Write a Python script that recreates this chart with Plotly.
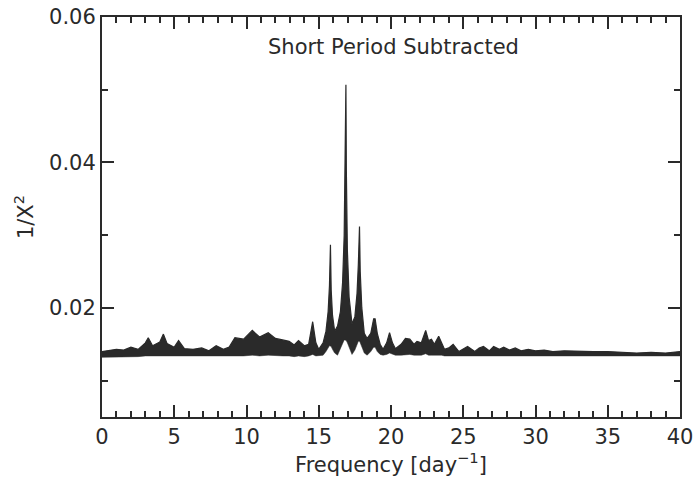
import plotly.graph_objects as go

freq = [0.0, 0.5, 1.0, 1.5, 2.0, 2.5, 3.0, 3.2, 3.5, 4.0, 4.25, 4.5, 5.0, 5.3, 5.7, 6.3, 6.9, 7.4, 7.9, 8.4,
        8.8, 9.2, 9.8, 10.4, 10.9, 11.5, 12.0, 12.5, 12.95, 13.3, 13.6, 14.0, 14.3, 14.58, 14.8, 15.0, 15.3,
        15.5, 15.65, 15.74, 15.77, 15.81, 15.86, 15.95, 16.1, 16.3, 16.5, 16.65, 16.76, 16.82, 16.84, 16.88,
        16.91, 16.98, 17.1, 17.3, 17.5, 17.65, 17.74, 17.78, 17.82, 17.87, 17.98, 18.15, 18.35, 18.6, 18.8,
        18.9, 19.05, 19.25, 19.45, 19.7, 19.9, 20.1, 20.3, 20.7, 21.0, 21.3, 21.6, 21.8, 22.1, 22.4, 22.6,
        22.8, 23.0, 23.3, 23.5, 23.7, 24.0, 24.3, 24.7, 25.0, 25.3, 25.8, 26.1, 26.4, 26.8, 27.1, 27.5, 27.8,
        28.2, 28.6, 29.0, 29.5, 30.0, 30.6, 31.2, 32.0, 33.0, 34.0, 35.0, 36.0, 37.0, 38.0, 39.0, 40.0]

upper = [0.0140, 0.0141, 0.0143, 0.0142, 0.0146, 0.0143, 0.0152, 0.0159, 0.0148, 0.0153, 0.0164, 0.0151,
         0.0146, 0.0155, 0.0144, 0.0143, 0.0145, 0.0141, 0.0148, 0.0143, 0.0146, 0.0159, 0.0157, 0.0169,
         0.0160, 0.0166, 0.0158, 0.0156, 0.0154, 0.0149, 0.0155, 0.0148, 0.0150, 0.0181, 0.0152, 0.0143,
         0.0152, 0.0168, 0.0195, 0.0230, 0.0287, 0.0287, 0.0225, 0.0190, 0.0168, 0.0175, 0.0195, 0.0235,
         0.0300, 0.0400, 0.0507, 0.0507, 0.0390, 0.0280, 0.0215, 0.0178, 0.0188, 0.0220, 0.0260, 0.0312,
         0.0312, 0.0250, 0.0200, 0.0165, 0.0158, 0.0165, 0.0185, 0.0185, 0.0165, 0.0150, 0.0143, 0.0152,
         0.0166, 0.0152, 0.0144, 0.0150, 0.0158, 0.0157, 0.0150, 0.0154, 0.0152, 0.0169, 0.0155, 0.0157,
         0.0150, 0.0161, 0.0152, 0.0143, 0.0145, 0.0150, 0.0140, 0.0144, 0.0147, 0.0140, 0.0145, 0.0147,
         0.0141, 0.0147, 0.0143, 0.0146, 0.0142, 0.0145, 0.0141, 0.0143, 0.0141, 0.0142, 0.0140, 0.0141,
         0.0140, 0.0140, 0.0140, 0.0139, 0.0138, 0.0139, 0.0138, 0.0140]

lower = [0.0132, 0.0132, 0.0133, 0.0132, 0.0133, 0.0133, 0.0134, 0.0134, 0.0133, 0.0134, 0.0134, 0.0134,
         0.0133, 0.0134, 0.0133, 0.0133, 0.0133, 0.0133, 0.0134, 0.0133, 0.0133, 0.0134, 0.0134, 0.0135,
         0.0134, 0.0135, 0.0134, 0.0134, 0.0134, 0.0133, 0.0134, 0.0133, 0.0134, 0.0136, 0.0134, 0.0134,
         0.0135, 0.0140, 0.0146, 0.0148, 0.0148, 0.0148, 0.0147, 0.0143, 0.0138, 0.0135, 0.0145, 0.0153,
         0.0156, 0.0156, 0.0156, 0.0156, 0.0155, 0.0152, 0.0145, 0.0136, 0.0142, 0.0151, 0.0154, 0.0154,
         0.0154, 0.0152, 0.0146, 0.0138, 0.0135, 0.0140, 0.0146, 0.0146, 0.0140, 0.0136, 0.0135, 0.0136,
         0.0138, 0.0136, 0.0135, 0.0135, 0.0136, 0.0136, 0.0135, 0.0135, 0.0135, 0.0137, 0.0135, 0.0135,
         0.0135, 0.0136, 0.0135, 0.0134, 0.0134, 0.0134, 0.0134, 0.0134, 0.0134, 0.0134, 0.0134, 0.0134,
         0.0134, 0.0134, 0.0134, 0.0134, 0.0134, 0.0134, 0.0134, 0.0134, 0.0134, 0.0134, 0.0134, 0.0134,
         0.0134, 0.0134, 0.0134, 0.0134, 0.0134, 0.0134, 0.0134, 0.0134]

x_ticks = [0, 5, 10, 15, 20, 25, 30, 35, 40]
y_ticks = [0.02, 0.04, 0.06]
y_tick_labels = ["0.02", "0.04", "0.06"]

INK = "#2a2a2a"
FONT = "DejaVu Sans"

fig = go.Figure()
fig.add_trace(go.Scatter(x=freq, y=lower, mode="lines", line=dict(width=0.5, color=INK),
                         showlegend=False, hoverinfo="skip"))
fig.add_trace(go.Scatter(x=freq, y=upper, mode="lines", line=dict(width=1.2, color=INK),
                         fill="tonexty", fillcolor=INK, showlegend=False))

fig.update_layout(
    width=696, height=487,
    margin=dict(l=102, r=16, t=17, b=70),
    paper_bgcolor="white", plot_bgcolor="white",
    font=dict(family=FONT, size=21, color=INK),
    annotations=[dict(text="Short Period Subtracted", x=0.505, y=0.925, xref="paper", yref="paper",
                      xanchor="center", yanchor="middle", showarrow=False,
                      font=dict(family=FONT, size=21, color=INK))],
)

fig.update_xaxes(
    range=[0, 40], tickmode="array", tickvals=x_ticks, ticktext=[str(v) for v in x_ticks],
    ticks="inside", ticklen=12, tickwidth=2, tickcolor=INK,
    minor=dict(dtick=1, ticks="inside", ticklen=6, tickwidth=1.5, tickcolor=INK),
    showline=True, linewidth=2, linecolor=INK, mirror="ticks",
    showgrid=False, zeroline=False, automargin=False,
    tickfont=dict(family=FONT, size=21, color=INK),
    title=dict(text="Frequency [day<sup>−1</sup>]", font=dict(family=FONT, size=21, color=INK), standoff=4),
)
fig.update_yaxes(
    range=[0.005, 0.06], tickmode="array", tickvals=y_ticks, ticktext=y_tick_labels,
    ticks="inside", ticklen=12, tickwidth=2, tickcolor=INK,
    minor=dict(tickvals=[0.01, 0.03, 0.05], ticks="inside", ticklen=6, tickwidth=1.5, tickcolor=INK),
    showline=True, linewidth=2, linecolor=INK, mirror="ticks",
    showgrid=False, zeroline=False, automargin=False,
    tickfont=dict(family=FONT, size=21, color=INK),
    title=dict(text="1/X<sup>2</sup>", font=dict(family=FONT, size=21, color=INK), standoff=10),
)

fig.write_html("out.html")
